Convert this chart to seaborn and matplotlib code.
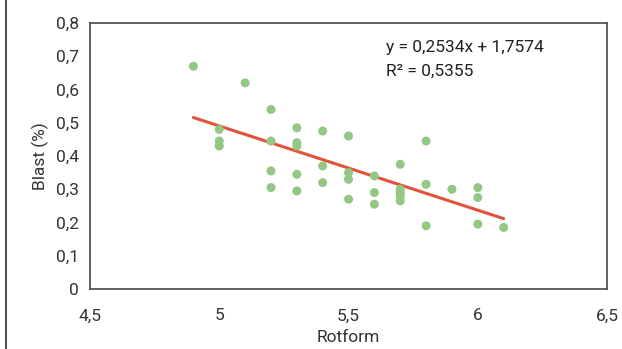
import numpy as np
import pandas as pd
import matplotlib
matplotlib.use('Agg')
import matplotlib.pyplot as plt
from matplotlib.lines import Line2D
from matplotlib.ticker import FuncFormatter
import seaborn as sns

# scatter values
rotform = [4.9, 5.1,
           5.0, 5.0, 5.0,
           5.2, 5.2, 5.2, 5.2,
           5.3, 5.3, 5.3, 5.3, 5.3,
           5.4, 5.4, 5.4,
           5.5, 5.5, 5.5, 5.5,
           5.6, 5.6, 5.6,
           5.7, 5.7, 5.7, 5.7, 5.7,
           5.8, 5.8, 5.8,
           5.9,
           6.0, 6.0, 6.0,
           6.1]
blast = [0.67, 0.62,
         0.48, 0.445, 0.43,
         0.54, 0.445, 0.355, 0.305,
         0.485, 0.44, 0.43, 0.345, 0.295,
         0.475, 0.37, 0.32,
         0.46, 0.35, 0.33, 0.27,
         0.34, 0.29, 0.255,
         0.375, 0.30, 0.29, 0.28, 0.265,
         0.445, 0.315, 0.19,
         0.30,
         0.305, 0.275, 0.195,
         0.185]

slope = -0.2534
intercept = 1.7574
r2_label = 'R² = 0,5355'
eq_label = 'y = 0,2534x + 1,7574'
x_ticks = [4.5, 5, 5.5, 6, 6.5]
y_ticks = [0, 0.1, 0.2, 0.3, 0.4, 0.5, 0.6, 0.7, 0.8]

df = pd.DataFrame({'Rotform': rotform, 'Blast': blast})
trend_x = np.array([min(rotform), max(rotform)])
trend = pd.DataFrame({'Rotform': trend_x, 'Blast': slope * trend_x + intercept})

sns.set_style('white')
plt.rcParams['font.family'] = ['Roboto', 'DejaVu Sans']

fig = plt.figure(figsize=(6.22, 3.49), dpi=100)
ax = fig.add_axes([0.1447, 0.172, 0.8313, 0.762])

sns.lineplot(data=trend, x='Rotform', y='Blast', color='#e2533a', lw=2.2, ax=ax, zorder=2)
sns.scatterplot(data=df, x='Rotform', y='Blast', color='#92c883', s=42, edgecolor='none',
                ax=ax, zorder=3)

ax.set_xlim(4.5, 6.5)
ax.set_ylim(0, 0.8)
ax.set_xticks(x_ticks)
ax.set_yticks(y_ticks)
comma = FuncFormatter(lambda v, p: ('%g' % v).replace('.', ','))
ax.xaxis.set_major_formatter(comma)
ax.yaxis.set_major_formatter(comma)

for s in ax.spines.values():
    s.set_color('#555555')
    s.set_linewidth(1.3)
ax.tick_params(axis='both', colors='#555555', labelcolor='#333333', labelsize=12.5,
               direction='out', length=6, width=1.1, pad=2)
ax.tick_params(axis='x', length=5, pad=9)

ax.set_xlabel('Rotform', fontsize=12.5, color='#333333', labelpad=5)
ax.set_ylabel('Blast (%)', fontsize=12.5, color='#333333', labelpad=5)

ax.text(0.573, 0.89, eq_label, transform=ax.transAxes, fontsize=12.5, color='#222222')
ax.text(0.573, 0.80, r2_label, transform=ax.transAxes, fontsize=12.5, color='#222222')

# outer frame line at the left edge
fig.add_artist(Line2D([6 / 622, 6 / 622], [0, 1], transform=fig.transFigure,
                      color='#555555', lw=1.5))

fig.savefig('out.png', dpi=100)
